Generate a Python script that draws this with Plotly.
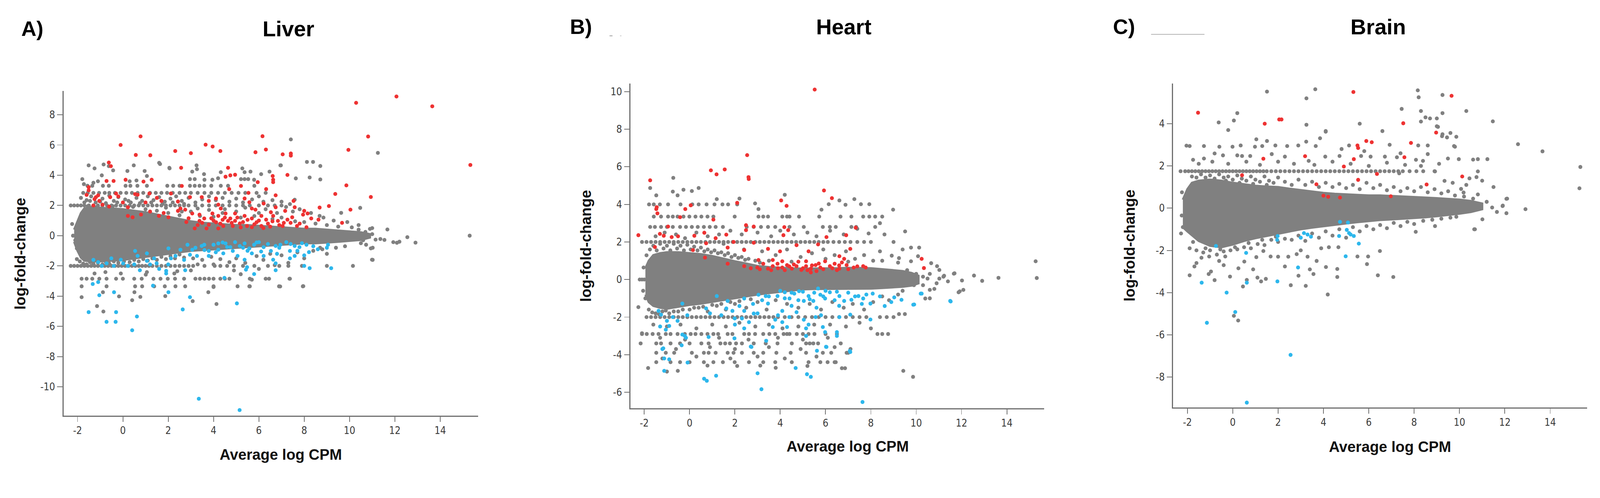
import plotly.graph_objects as go

W, H = 4284, 1276
GREY = "#808080"
RED = "#EE3232"
BLUE = "#2DB7EC"
AXIS = "#6f6f6f"

X_TICKS = [-2, 0, 2, 4, 6, 8, 10, 12, 14]
X_TICK_LABELS = ["-2", "0", "2", "4", "6", "8", "10", "12", "14"]
LIVER_Y_TICKS = [-10, -8, -6, -4, -2, 0, 2, 4, 6, 8]
LIVER_Y_LABELS = ["-10", "-8", "-6", "-4", "-2", "0", "2", "4", "6", "8"]
HEART_Y_TICKS = [-6, -4, -2, 0, 2, 4, 6, 8, 10]
HEART_Y_LABELS = ["-6", "-4", "-2", "0", "2", "4", "6", "8", "10"]
BRAIN_Y_TICKS = [-8, -6, -4, -2, 0, 2, 4]
BRAIN_Y_LABELS = ["-8", "-6", "-4", "-2", "0", "2", "4"]

PANEL_TITLES = ["Liver", "Heart", "Brain"]
PANEL_LETTERS = ["A)", "B)", "C)"]
X_TITLE = "Average log CPM"
Y_TITLE = "log-fold-change"

# ---------------- Liver ----------------
LIVER_CORE_X = [-2.15, -2.0, -1.85, -1.7, -1.4, -1.0, -0.5, 0, 0.5, 1, 1.5, 2, 2.5, 3, 3.5, 4, 4.5, 5,
                5.5, 6, 6.5, 7, 7.5, 8, 8.5, 9, 9.5, 10, 10.5, 10.9]
LIVER_CORE_HI = [0.4, 1.0, 1.5, 1.8, 1.9, 1.85, 1.8, 1.75, 1.65, 1.55, 1.4, 1.25, 1.1, 0.95, 0.85, 0.8, 0.75,
                 0.7, 0.7, 0.65, 0.6, 0.55, 0.5, 0.45, 0.45, 0.4, 0.35, 0.3, 0.22, 0.1]
LIVER_CORE_LO = [-0.4, -1.0, -1.45, -1.65, -1.7, -1.7, -1.65, -1.6, -1.5, -1.4, -1.3, -1.2, -1.1, -1.0, -0.95,
                 -0.9, -0.85, -0.8, -0.75, -0.7, -0.65, -0.6, -0.55, -0.5, -0.5, -0.45, -0.4, -0.35, -0.28, -0.12]
LIVER_GREY_ROWS = [
    (3.3, [-1.56, -1.35, -0.88, -0.62, 0.12, 0.33, 0.64, 1.06, 1.96, 2.22, 2.5, 2.96, 3.17, 3.38, 3.59, 3.9, 4.32, 4.64, 5.8]),
    (2.83, [-1.75, -1.55, -1.3, -1.05, -0.8, -0.6, -0.35, -0.1, 0.15, 0.4, 0.65, 0.9, 1.2, 1.45, 1.7, 1.95, 2.2, 2.5,
            2.75, 3.0, 3.3, 3.6, 3.9, 4.2, 4.5, 4.8, 5.1, 5.4, 5.9, 6.3]),
    (2.0, [-2.3, -2.15, -2.0, -1.85, -1.7, -1.5, -1.3, -1.1, -0.9, -0.7, -0.5, -0.3, -0.1, 0.1, 0.3, 0.5, 0.7, 0.9, 1.1,
           1.3, 1.5, 1.7, 1.9, 2.1, 2.3, 2.5, 2.7, 2.9, 3.2, 3.5, 3.8, 4.1, 4.4, 4.7, 5.0, 5.3, 5.6, 6.0, 6.4, 6.7, 7.0]),
    (-2.0, [-2.3, -2.15, -2.0, -1.85, -1.7, -1.55, -1.4, -1.25, -1.1, -0.95, -0.8, -0.65, -0.5, -0.35, -0.2, -0.05, 0.1,
            0.25, 0.4, 0.55, 0.7, 0.85, 1.0, 1.15, 1.3, 1.5, 1.7, 1.9, 2.1, 2.3, 2.5, 2.7, 2.9, 3.1, 3.6, 4.05, 4.3, 4.6,
            4.9, 5.3, 5.8, 6.4, 6.9, 7.3, 7.9, 9.0, 10.15]),
    (-2.85, [-1.82, -1.6, -1.35, -1.04, -0.72, -0.3, 0.0, 0.5, 0.83, 1.35, 1.66, 1.98, 2.3, 2.7, 3.2, 3.4, 3.6, 3.8, 4.0,
             4.3, 4.5, 4.7, 5.6, 6.3, 6.45, 7.37]),
    (-3.35, [-1.82, -0.72, 0.54, 0.85, 1.38, 1.85, 2.32, 2.75, 4.0, 5.06, 5.58, 6.89, 7.94]),
]
LIVER_GREY = [
    (-1.51, 4.65), (-1.25, 4.45), (-0.85, 4.71), (-0.43, 4.32), (-0.62, 4.6), (0.2, 4.28), (0.48, 4.65), (0.96, 4.28),
    (1.64, 4.74), (2.06, 4.45), (3.06, 4.24), (3.25, 4.65), (3.27, 4.4), (3.58, 4.07), (4.32, 4.2), (5.27, 4.45),
    (5.37, 4.2), (5.63, 4.24), (6.1, 4.07), (6.47, 4.24), (6.97, 4.65), (7.63, 3.79), (8.24, 3.85), (8.71, 4.61),
    (8.71, 3.72), (-0.93, 3.99), (-1.79, 3.74), (1.06, 3.95), (2.96, 3.74), (3.17, 3.74), (3.6, 3.7), (3.95, 3.7),
    (4.2, 3.8), (5.21, 3.74), (5.37, 3.74), (5.53, 3.74), (5.79, 3.7), (7.41, 6.37), (8.12, 4.88), (8.39, 4.88),
    (11.25, 5.48), (6.95, 4.65), (-1.72, 3.41), (-1.3, 3.5), (-1.1, 3.6), (0.3, 3.6), (0.6, 3.65), (1.6, 4.82),
    (2.05, 4.49),
    (-1.85, 2.5), (-1.6, 2.35), (-1.4, 2.6), (-1.2, 2.2), (-0.9, 2.45), (-0.6, 2.65), (-0.4, 2.3), (-0.2, 2.55),
    (0.1, 2.4), (0.35, 2.2), (0.6, 2.5), (0.85, 2.3), (1.1, 2.6), (1.35, 2.35), (1.6, 2.55), (1.85, 2.25), (2.1, 2.45),
    (2.35, 2.6), (2.6, 2.3), (2.9, 2.5), (3.2, 2.2), (3.5, 2.4), (3.8, 2.6), (4.1, 2.35), (4.4, 2.5), (4.7, 2.25),
    (5.0, 2.45), (5.3, 2.2), (5.7, 2.4), (6.0, 2.6), (6.2, 2.25), (6.6, 2.35), (7.0, 2.25), (7.37, 2.09), (7.58, 2.38),
    (7.2, 1.9), (7.5, 1.6), (7.8, 1.75), (8.68, 1.31), (8.85, 1.2), (9.63, 1.51), (10.47, 1.84), (8.3, 1.5), (9.3, 1.0),
    (9.9, 0.9), (10.4, 0.7), (10.9, 0.45), (11.0, 0.5),
    (-1.7, 2.2), (-1.45, 2.3), (-1.0, 2.25), (-0.75, 2.15), (-0.25, 2.2), (0.25, 2.3), (0.75, 2.15), (1.25, 2.2),
    (1.75, 2.1), (2.2, 2.2), (2.7, 2.1), (-1.55, 1.95), (-1.15, 1.9), (-0.45, 1.95), (0.45, 1.9), (1.0, 1.75),
    (1.5, 1.65), (2.0, 1.5), (2.5, 1.35), (2.6, 1.6), (1.9, 1.85),
    (3.0, 1.6), (3.3, 1.8), (3.8, 1.7), (4.5, 1.75), (5.0, 1.6), (5.4, 1.85), (6.0, 1.5), (6.3, 1.75), (6.8, 1.5),
    (7.0, 1.2), (6.6, 1.1), (5.8, 1.3), (4.4, 1.5), (5.2, 1.2), (4.0, 1.25), (3.4, 1.3), (7.6, 0.95), (8.0, 0.9),
    (8.5, 0.8), (9.0, 0.7),
    (10.99, -1.59), (10.94, -0.84), (10.73, -0.6), (11.36, -0.22), (11.67, 0.41), (11.93, -0.43), (12.09, -0.47),
    (12.55, -0.1), (11.15, -0.26), (12.91, -0.46), (12.2, -0.4), (11.54, -0.28), (15.3, 0.0), (11.02, -0.8),
    (10.6, -0.3), (10.4, 0.4), (10.7, 0.25), (11.0, 0.1), (10.5, -0.5), (9.8, -0.7), (9.4, -0.8), (8.8, -0.9),
    (9.5, 0.6), (10.1, 0.55),
    (-2.03, -1.55), (-2.03, -0.84), (-2.2, 0.0), (-2.24, 0.77), (-2.1, -0.3), (1.01, -2.58), (1.06, -2.41),
    (-0.09, -2.5), (-1.25, -2.5), (-0.77, -2.41), (2.27, -2.5), (4.0, -3.4), (6.94, -3.36), (5.69, -2.91),
    (-1.82, -4.07), (-0.88, -3.74), (-0.17, -4.02), (0.41, -4.27), (0.51, -3.74), (0.77, -4.05), (-1.14, -4.66),
    (-0.86, -5.02), (1.87, -4.0), (3.08, -4.33), (3.77, -3.74), (4.13, -4.52), (7.96, -3.34), (7.35, -2.85),
    (5.6, -3.35), (11.02, -1.6),
    (-1.9, -1.7), (-1.6, -1.9), (-1.3, -1.85), (-0.9, -1.9), (-0.6, -1.85), (-0.2, -1.8), (0.3, -1.75), (0.7, -1.7),
    (1.1, -1.65), (1.5, -1.6), (1.9, -1.55), (2.3, -1.5), (2.7, -1.45), (3.1, -1.5), (3.5, -1.6), (3.9, -1.4),
    (4.3, -1.55), (4.7, -1.75), (5.0, -1.5), (5.4, -1.8), (5.9, -1.35), (6.2, -1.6), (6.5, -1.2), (7.0, -1.3),
    (7.3, -1.8), (7.7, -1.1), (8.0, -1.5), (8.4, -1.0), (8.7, -0.8), (9.0, -1.2), (3.3, -1.9), (4.0, -1.9),
    (4.9, -2.3), (5.2, -2.55), (6.0, -2.2), (6.7, -1.95), (3.0, -2.3), (2.4, -2.35),
    (-1.75, -1.85), (-1.45, -1.75), (-1.1, -1.8), (-0.75, -1.75), (-0.4, -1.7), (0.05, -1.7), (0.5, -1.6),
    (0.9, -1.55), (1.3, -1.5), (1.7, -1.4), (2.1, -1.35), (2.5, -1.25),
]
LIVER_RED = [
    (12.07, 9.21), (10.29, 8.79), (13.65, 8.56), (15.33, 4.68), (10.82, 6.56), (9.95, 5.68), (9.86, 3.33),
    (10.94, 2.56), (9.37, 2.76), (10.04, 1.72), (9.09, 1.96), (8.68, 1.86), (9.67, 0.85), (-0.1, 6.0), (0.78, 6.57),
    (0.57, 5.34), (1.21, 5.32), (2.31, 5.6), (3.0, 5.46), (3.65, 6.02), (3.96, 5.9), (4.3, 5.6), (5.85, 5.52),
    (6.16, 6.58), (6.31, 5.7), (7.05, 5.38), (7.41, 5.44), (7.41, 5.3), (-0.62, 4.84), (-0.53, 4.6),
    (2.57, 4.49), (4.64, 4.49), (7.26, 4.02), (6.61, 3.95), (6.63, 3.7), (6.63, 3.54), (2.6, 3.29), (4.53, 3.9),
    (4.74, 3.99), (4.95, 4.03), (5.21, 3.29), (4.69, 3.08), (5.95, 3.54), (6.32, 3.08), (5.54, 2.83), (6.74, 2.67),
    (7.53, 2.3), (7.58, 1.88), (8.0, 1.64), (8.15, 1.47), (7.95, 1.39), (8.31, 1.14), (8.1, 0.56), (8.63, 1.06),
    (-1.51, 3.21), (-1.51, 3.0), (-0.72, 3.62), (-0.41, 3.62), (0.12, 3.7), (0.91, 3.58), (1.27, 3.7), (0.54, 2.75),
    (-1.09, 2.67), (-1.19, 2.55), (-1.25, 2.42), (-1.04, 2.3), (-0.61, 1.93), (-0.56, 2.55), (-0.3, 2.79),
    (0.22, 1.88), (0.65, 2.71), (1.17, 2.79), (1.7, 2.3), (2.12, 2.79), (2.43, 2.26), (2.54, 1.8), (0.22, 1.31),
    (0.43, 1.22), (1.59, 1.31), (2.01, 1.22), (2.43, 1.64), (2.75, 1.72), (3.06, 1.47), (3.17, 0.48), (3.38, 0.98),
    (3.59, 1.14), (3.38, 1.39), (2.96, 2.55), (3.48, 2.55), (3.79, 2.3), (4.11, 2.46), (4.21, 2.05), (4.32, 1.8),
    (3.95, 1.47), (4.21, 1.31), (4.53, 1.47), (4.74, 1.14), (4.95, 0.98), (5.16, 0.81), (5.37, 1.31), (5.69, 1.14),
    (5.9, 0.89), (6.11, 0.64), (6.32, 1.06), (6.63, 1.31), (6.84, 0.98), (7.05, 0.64), (7.26, 1.06), (7.68, 0.64),
    (3.79, 0.73), (4.11, 0.89), (4.43, 0.64), (4.64, 0.98), (4.85, 0.64), (5.48, 0.64), (6.11, 1.31), (5.85, 1.72),
    (6.21, 2.13), (5.37, 2.46), (5.58, 2.21), (5.69, 1.8), (7.16, 1.64), (7.47, 1.22), (6.74, 1.88), (6.53, 1.55),
    (4.95, 1.47), (3.69, 0.48), (4.21, 0.48), (5.69, 0.56),
    (4.0, 1.0), (4.3, 0.8), (4.5, 1.2), (4.8, 0.85), (5.05, 1.2), (5.3, 0.9), (5.5, 1.05), (5.8, 0.75), (6.0, 1.0),
    (6.4, 0.8), (6.6, 0.95), (3.9, 1.15), (4.4, 1.05), (5.2, 0.55), (6.2, 0.5), (6.9, 0.7), (7.4, 0.85), (3.3, 0.7),
    (3.5, 0.85), (2.8, 0.9), (2.9, 1.15), (6.5, 0.6), (7.1, 0.85), (7.8, 0.8), (1.8, 1.5), (1.2, 1.6), (0.8, 1.4),
    (-1.3, 2.0), (-0.9, 2.05), (-1.6, 2.7), (0.0, 2.2), (-0.2, 2.6), (1.0, 2.2), (1.5, 2.5),
]
LIVER_BLUE = [
    (3.35, -10.79), (5.15, -11.54), (-1.51, -5.06), (-0.3, -5.06), (-0.72, -5.7), (-0.32, -5.7), (0.41, -6.26),
    (0.62, -5.35), (2.64, -4.88), (5.03, -4.48), (2.01, -3.74), (2.96, -4.07), (1.33, -3.31), (-1.04, -3.94),
    (-0.39, -3.74), (-1.33, -3.2), (-1.09, -3.07), (1.91, -2.5), (1.91, -2.33), (2.75, -2.29), (4.48, -2.79),
    (5.79, -2.54), (5.43, -2.25), (6.74, -2.29), (8.0, -2.0), (8.24, -2.15), (9.19, -2.15), (0.75, -2.29),
    (0.22, -2.0), (0.01, -1.83), (-0.93, -2.0), (-0.72, -1.83), (-0.09, -1.59), (0.54, -1.01), (0.65, -1.34),
    (1.06, -1.67), (1.38, -1.5), (1.49, -1.83), (2.01, -0.84), (2.32, -1.34), (2.54, -0.93), (2.85, -0.6),
    (3.06, -0.93), (3.27, -1.34), (3.48, -0.68), (3.79, -1.01), (4.0, -0.6), (4.21, -0.93), (4.53, -0.51),
    (4.74, -0.76), (4.95, -0.43), (5.16, -0.68), (5.37, -0.51), (5.58, -0.84), (5.79, -0.6), (6.0, -0.43),
    (6.21, -0.76), (6.53, -1.01), (6.74, -0.68), (6.95, -0.6), (7.21, -0.43), (7.37, -1.01), (7.58, -0.68),
    (7.79, -0.76), (8.1, -0.6), (8.21, -1.09), (9.05, -0.6), (3.79, -1.34), (4.43, -1.17), (5.06, -1.34),
    (5.37, -1.59), (5.48, -2.08), (6.63, -1.59), (7.37, -1.5), (6.74, -1.83), (7.58, -1.34), (2.12, -1.5),
    (2.96, -1.26), (1.06, -1.17), (-0.51, -1.5), (-1.09, -1.75), (3.59, -0.6), (4.21, -0.51), (4.85, -1.01),
    (5.69, -1.17), (6.21, -1.34),
    (4.4, -0.45), (4.6, -0.75), (5.3, -0.8), (5.9, -0.45), (6.4, -0.55), (6.9, -0.8), (7.4, -0.55), (7.9, -0.5),
    (8.4, -0.7), (3.2, -0.8), (3.6, -0.95), (4.1, -1.1), (5.5, -1.0), (6.1, -1.05), (6.8, -1.2), (7.7, -1.0),
    (8.0, -1.3), (8.6, -0.9), (9.0, -0.8), (2.7, -1.6), (2.0, -1.9), (1.6, -2.2), (1.2, -1.9), (0.5, -1.9),
    (-0.4, -2.0), (-1.3, -1.6),
]

# ---------------- Heart ----------------
HEART_CORE_X = [-1.95, -1.8, -1.6, -1.3, -1.0, -0.5, 0, 0.5, 1, 1.5, 2, 2.5, 3, 3.5, 4, 4.5, 5, 5.5, 6, 6.5,
                7, 7.5, 8, 8.5, 9, 9.4, 9.8, 10.1]
HEART_CORE_HI = [0.6, 1.0, 1.3, 1.4, 1.45, 1.45, 1.4, 1.35, 1.25, 1.1, 0.97, 0.85, 0.72, 0.66, 0.62, 0.6, 0.58,
                 0.58, 0.58, 0.6, 0.62, 0.62, 0.6, 0.55, 0.5, 0.45, 0.35, 0.2]
HEART_CORE_LO = [-0.8, -1.2, -1.4, -1.5, -1.55, -1.45, -1.35, -1.28, -1.2, -1.1, -1.0, -0.9, -0.8, -0.72,
                 -0.65, -0.58, -0.52, -0.5, -0.48, -0.48, -0.48, -0.48, -0.48, -0.45, -0.42, -0.38, -0.32, -0.2]
HEART_GREY_ROWS = [
    (0.0, [-2.2, -2.1, -2.0]),
    (4.0, [-1.79, -1.58, -1.31, -0.95, -0.4, 0.12, 0.4, 0.75, 1.1, 1.45, 1.7, 2.1]),
    (3.35, [-1.58, -1.26, -0.95, -0.74, -0.53, -0.27, -0.01, 0.26, 0.52, 0.79, 1.05, 1.99, 3.04, 3.25, 3.46, 4.09,
            4.3, 4.41, 4.83, 5.72, 6.66, 7.14, 7.66, 7.93, 8.19, 8.5]),
    (2.8, [-1.74, -1.53, -1.26, -1.0, -0.74, -0.42, -0.16, 0.1, 0.36, 0.63, 0.89, 1.15, 1.47, 2.52, 2.83, 3.15, 3.46,
           3.78, 4.41, 5.04, 5.88, 6.19, 6.45, 7.14, 7.35, 8.19]),
    (2.0, [-2.1, -1.9, -1.7, -1.5, -1.3, -1.1, -0.9, -0.7, -0.5, -0.3, -0.1, 0.1, 0.3, 0.5, 0.7, 0.9, 1.1, 1.3, 1.5,
           1.7, 1.9, 2.1, 2.3, 2.5, 2.7, 2.9, 3.1, 3.3, 3.5, 3.7, 3.9, 4.1, 4.3, 4.5, 4.7, 4.9, 5.1, 5.3, 5.5, 5.7, 5.9,
           6.1, 6.35, 6.6, 6.85, 7.1, 7.4, 7.7, 8.0]),
    (-2.0, [-1.9, -1.7, -1.5, -1.3, -1.1, -0.9, -0.7, -0.5, -0.3, -0.1, 0.1, 0.3, 0.5, 0.7, 0.9, 1.1, 1.3, 1.5, 1.7,
            1.9, 2.1, 2.3, 2.5, 2.7, 2.9, 3.1, 3.3, 3.5, 3.7, 3.9, 4.2, 4.5, 4.8, 5.1, 5.4, 5.7, 6.0, 6.3, 6.6, 6.9,
            7.2, 7.5, 7.8, 8.4, 8.7, 9.0]),
    (-2.9, [-2.1, -1.89, -1.63, -1.37, -1.05, -0.84, -0.53, -0.21, 0.05, 0.26, 0.52, 0.79, 1.05, 1.26, 1.68, 1.89,
            2.41, 2.62, 2.89, 3.25, 3.52, 3.78, 4.15, 4.3, 4.41, 4.73, 5.0, 5.25, 5.51, 6.0, 6.5, 8.29, 8.5, 8.76]),
    (-3.4, [-2.16, -1.47, -1.26, -0.84, -0.42, 0.0, 0.52, 0.84, 1.36, 1.57, 1.78, 2.05, 2.31, 2.83, 3.36, 3.88, 4.51,
            5.14, 5.3, 5.46, 5.67, 6.67]),
    (-3.9, [-1.47, -1.05, -0.68, 0.1, 0.63, 0.84, 1.15, 1.68, 1.94, 2.31, 2.83, 3.25, 3.83, 4.46, 5.14, 5.88, 6.25,
            6.93]),
    (-4.4, [-1.47, -0.84, -0.42, 0.0, 0.63, 1.05, 1.47, 1.99, 2.62, 3.25, 3.78, 4.51, 5.25, 5.77, 6.09, 6.45]),
]
HEART_GREY = [
    (-2.03, 0.64), (-1.9, 1.29), (-2.05, -0.6), (-1.95, -1.0),
    (-1.74, 4.87), (-1.47, 4.48), (-0.74, 4.68), (-0.53, 4.48), (-0.27, 4.78), (0.1, 4.71), (0.4, 4.87), (1.2, 4.28),
    (2.2, 4.31), (4.2, 4.51), (7.27, 4.28), (6.61, 4.21), (6.88, 3.98), (7.56, 4.01), (7.93, 4.01), (8.98, 3.72),
    (6.14, 4.01), (5.82, 3.72), (2.89, 4.05), (3.04, 3.75), (-0.72, 5.41), (9.51, 2.56), (8.4, 3.0), (8.6, 2.4),
    (7.9, 2.45), (9.0, 2.0), (9.4, 1.6), (9.77, 1.7), (10.13, 1.7), (8.92, 1.27), (9.24, 1.14), (9.77, 0.97),
    (10.08, 1.24), (10.66, 0.87), (10.92, 0.71), (11.02, 0.51), (11.66, 0.31), (12.02, -0.05), (12.55, 0.21),
    (11.02, 0.05), (11.2, 0.15), (10.6, 0.3), (10.3, 0.15), (10.6, -0.55), (10.8, -0.5), (11.87, -0.68),
    (12.08, -0.55), (10.4, -1.01), (10.6, -1.0), (9.24, -1.84), (9.5, -1.84), (11.23, 0.2), (11.69, 0.33),
    (12.91, -0.07), (13.63, 0.09), (15.27, 0.97), (15.32, 0.08), (11.92, -0.63), (9.43, -4.86), (9.86, -5.18),
    (-1.83, -4.71), (-0.52, -4.86), (0.79, -4.58), (3.12, -4.58), (6.72, -4.72), (6.86, -4.72), (6.4, -4.4),
    (7.1, -3.7), (7.0, -3.9), (-2.26, -1.47), (-2.1, -2.86), (9.9, -0.3), (9.6, 0.5), (9.4, -0.6), (10.0, 0.3),
    (9.2, 0.9), (8.5, 1.0), (10.3, -0.3), (10.5, 0.05), (10.9, -0.2), (11.4, -0.1),
    (-1.75, 1.6), (-1.6, 1.8), (-1.45, 1.55), (-1.3, 1.9), (-1.15, 1.65), (-1.0, 1.8), (-0.85, 1.55), (-0.7, 1.9),
    (-0.55, 1.65), (-0.4, 1.8), (-0.25, 1.55), (-0.1, 1.85), (0.05, 1.6), (0.2, 1.75), (0.35, 1.55), (0.5, 1.7),
    (0.65, 1.5), (0.8, 1.6), (0.95, 1.45), (1.1, 1.55), (1.25, 1.4), (1.4, 1.45), (1.55, 1.3), (1.7, 1.4),
    (1.85, 1.2), (2.0, 1.3), (2.15, 1.15), (2.3, 1.2), (2.45, 1.05), (2.6, 1.1), (2.9, 1.0), (3.1, 0.9),
    (-1.5, 2.3), (-1.1, 2.5), (-0.6, 2.4), (-0.2, 2.2), (0.3, 2.5), (0.8, 2.3), (1.3, 2.4), (1.8, 2.6), (2.3, 2.4),
    (3.0, 2.5), (3.6, 2.3), (4.0, 2.6), (4.6, 2.4), (5.2, 2.5), (5.6, 2.3), (6.2, 2.6), (6.8, 2.4), (7.4, 2.7),
    (3.2, 1.5), (3.8, 1.3), (4.3, 1.6), (4.9, 1.2), (5.4, 1.4), (5.9, 1.6), (6.4, 1.3), (6.9, 1.5), (7.3, 1.1),
    (7.7, 1.3), (8.1, 1.0), (8.4, 1.5), (3.5, 1.0), (4.5, 0.95), (6.0, 1.1), (7.0, 0.95), (2.4, 1.6), (1.5, 1.9),
    (-1.8, -1.6), (-1.5, -1.8), (-1.2, -1.7), (-0.9, -1.8), (-0.5, -1.7), (0.0, -1.6), (0.4, -1.5), (0.8, -1.7),
    (1.2, -1.4), (1.6, -1.6), (2.0, -1.3), (2.5, -1.5), (3.0, -1.2), (3.4, -1.6), (3.8, -1.1), (4.3, -1.3),
    (4.8, -1.5), (5.3, -1.3), (5.8, -1.6), (6.3, -1.2), (6.8, -1.5), (7.2, -1.3), (7.7, -1.6), (8.1, -1.2),
    (8.5, -0.9), (8.8, -1.1), (9.2, -0.8), (-1.6, -2.4), (-1.0, -2.5), (-0.4, -2.4), (0.3, -2.6), (1.0, -2.4),
    (1.6, -2.5), (2.2, -2.3), (2.9, -2.5), (3.5, -2.4), (4.1, -2.6), (4.8, -2.5), (5.5, -2.4), (6.2, -2.4),
    (6.9, -2.5), (7.5, -2.3), (8.0, -2.6), (-1.3, -3.1), (-0.2, -3.2), (1.3, -3.1), (2.6, -3.2), (3.9, -3.1),
    (5.0, -3.2), (6.1, -3.1), (-0.6, -3.7), (0.9, -3.6), (2.0, -3.7), (3.5, -3.6), (4.9, -3.7), (6.4, -3.6),
    (-1.2, -4.2), (0.3, -4.1), (1.8, -4.2), (3.0, -4.1), (4.2, -4.2), (5.6, -4.1), (2.1, -4.6), (3.8, -4.7),
    (5.2, -4.6), (-1.0, -4.9),
    (-1.65, -1.75), (-1.35, -1.85), (-1.05, -1.65), (-0.7, -1.7), (-0.3, -1.6), (0.2, -1.5), (0.6, -1.45),
    (1.0, -1.35), (1.4, -1.3), (1.8, -1.2), (2.2, -1.15), (2.7, -1.05),
]
HEART_RED = [
    (5.52, 10.11), (2.54, 6.62), (2.6, 5.45), (2.61, 5.35), (1.55, 5.86), (1.19, 5.6), (0.94, 5.81), (-1.74, 5.28),
    (-2.26, 2.36), (-1.47, 3.75), (-1.45, 3.85), (-1.42, 3.52), (-0.19, 3.75), (0.05, 3.95), (-0.42, 3.32),
    (1.05, 3.19), (0.65, 2.49), (2.1, 4.08), (2.49, 2.89), (2.49, 2.63), (2.83, 2.82), (4.04, 4.21), (4.28, 3.92),
    (4.18, 2.79), (4.35, 2.63), (4.14, 2.36), (5.93, 4.74), (6.28, 4.33), (7.33, 2.76), (6.04, 2.26), (6.91, 2.36),
    (7.09, 1.63), (5.67, 1.87), (10.24, 1.1), (10.34, 0.61), (-1.53, 1.73), (-1.31, 2.43), (-1.14, 2.33),
    (-0.95, 2.82), (-0.79, 2.26), (-0.51, 2.3), (0.21, 2.33), (0.73, 1.93), (1.15, 2.2), (1.62, 2.39), (0.15, 1.57),
    (1.68, 1.7), (1.94, 2.0), (2.41, 1.57), (2.83, 1.96), (3.46, 1.63), (3.99, 1.5), (4.72, 1.83), (5.25, 1.5),
    (1.68, 0.84), (0.68, 1.17), (2.41, 0.71), (2.99, 0.64), (3.25, 0.84), (3.46, 0.58), (3.67, 0.71), (3.88, 0.84),
    (4.09, 0.64), (4.3, 0.77), (4.51, 0.58), (4.72, 0.71), (4.93, 0.51), (5.14, 0.71), (5.35, 0.58), (5.56, 0.77),
    (5.77, 0.64), (5.98, 0.97), (6.19, 0.71), (6.4, 0.84), (6.61, 0.58), (6.72, 0.91), (6.93, 0.77), (7.24, 0.64),
    (7.66, 0.71), (7.77, 0.64), (5.35, 0.38), (4.09, 0.97), (3.04, 1.04), (3.67, 1.04), (5.14, 0.97), (6.61, 1.24),
    (6.82, 1.1),
    (3.1, 0.55), (3.6, 0.5), (4.2, 0.5), (4.6, 0.8), (5.0, 0.6), (5.4, 0.75), (5.9, 0.55), (6.3, 0.6), (6.6, 0.75),
    (7.0, 0.55), (7.4, 0.7), (3.9, 0.6), (4.4, 0.7), (5.2, 0.5), (5.7, 0.85), (6.5, 0.5), (2.7, 0.6), (4.8, 0.95),
    (5.6, 0.45),
]
HEART_BLUE = [
    (7.63, -6.52), (3.17, -5.84), (5.35, -5.18), (5.18, -5.04), (4.68, -4.71), (3.0, -4.99), (1.17, -5.12),
    (0.64, -5.28), (0.76, -5.39), (-1.12, -4.86), (-1.12, -4.2), (-0.9, -4.25), (-1.2, -3.7), (-0.09, -4.42),
    (-0.35, -3.5), (2.7, -3.57), (1.98, -3.13), (3.38, -3.26), (6.02, -3.58), (7.07, -3.8), (11.52, -1.17),
    (9.91, -1.33), (10.2, -0.75), (7.98, -2.13),
    (1.2, -0.88), (-0.32, -1.28), (-1.37, -1.67), (-1.26, -1.87), (-1.05, -2.67), (-0.9, -2.47), (-0.74, -2.0),
    (-0.53, -2.2), (-0.21, -3.0), (-0.16, -3.1), (-1.16, -3.66), (0.84, -3.06), (1.62, -1.54), (1.89, -1.67),
    (1.99, -2.07), (2.41, -1.67), (2.31, -2.07), (2.62, -2.27), (2.41, -2.6), (2.83, -1.81), (3.04, -0.81),
    (3.36, -0.88), (3.46, -1.28), (3.78, -2.14), (4.09, -1.67), (3.67, -2.53), (3.88, -0.88), (4.2, -0.68),
    (4.41, -1.01), (4.62, -0.75), (4.83, -0.62), (5.04, -1.14), (5.25, -0.88), (5.46, -1.14), (5.67, -0.48),
    (5.77, -0.81), (5.98, -1.01), (6.19, -0.68), (6.61, -0.88), (6.82, -1.14), (7.14, -1.08), (7.45, -0.88),
    (7.66, -1.01), (8.08, -0.75), (7.98, -1.28), (8.61, -1.41), (9.03, -0.95), (9.35, -1.08), (9.87, -1.34),
    (10.24, -0.75), (11.5, -1.14), (4.09, -2.27), (4.3, -2.53), (4.72, -1.74), (5.04, -2.14), (5.25, -2.4),
    (5.14, -2.6), (5.56, -2.0), (5.88, -2.53), (6.5, -2.8), (5.14, -3.0), (5.98, -2.8), (6.5, -3.0), (6.61, -2.0),
    (7.09, -1.87), (7.09, -3.86), (5.62, -3.79), (6.04, -3.59), (2.73, -3.59), (2.2, -1.41), (0.73, -1.54),
    (2.41, -1.01), (1.68, -1.14), (-0.32, -2.93),
    (4.0, -0.6), (4.5, -0.7), (5.0, -0.65), (5.5, -0.7), (6.0, -0.6), (6.5, -0.65), (7.0, -0.7), (3.5, -0.9),
    (4.2, -1.0), (4.8, -1.1), (5.3, -1.05), (5.9, -0.9), (6.4, -1.1), (7.3, -0.9), (7.8, -0.8), (8.4, -0.9),
    (8.9, -1.2), (3.2, -1.1), (2.8, -1.3), (4.5, -1.4), (5.6, -1.5), (6.6, -1.4), (7.6, -1.3), (3.0, -1.8),
    (3.9, -1.9), (4.4, -2.0), (5.8, -1.9), (2.0, -2.4), (1.4, -1.9), (0.9, -1.8), (-0.1, -1.9), (-1.0, -2.2),
    (-1.3, -2.5),
]

# ---------------- Brain ----------------
BRAIN_CORE_X = [-2.2, -2.0, -1.8, -1.5, -1.0, -0.5, 0, 0.5, 1, 1.5, 2, 2.5, 3, 3.5, 4, 4.5, 5, 5.5, 6, 6.5, 7, 7.5,
                8, 8.5, 9, 9.5, 10, 10.5, 11]
BRAIN_CORE_HI = [0.4, 0.9, 1.2, 1.3, 1.35, 1.3, 1.2, 1.12, 1.06, 1.02, 1.0, 0.92, 0.85, 0.77, 0.72, 0.68, 0.65, 0.62,
                 0.6, 0.6, 0.58, 0.56, 0.53, 0.5, 0.47, 0.44, 0.4, 0.34, 0.22]
BRAIN_CORE_LO = [-0.9, -1.1, -1.3, -1.55, -1.78, -1.85, -1.72, -1.55, -1.42, -1.3, -1.2, -1.1, -1.0, -0.92, -0.85,
                 -0.78, -0.72, -0.66, -0.6, -0.56, -0.53, -0.5, -0.47, -0.43, -0.38, -0.33, -0.26, -0.18, -0.05]
BRAIN_GREY_ROWS = [
    (1.75, [-2.3, -2.1, -1.95, -1.8, -1.65, -1.5, -1.35, -1.2, -1.05, -0.9, -0.75, -0.6, -0.45, -0.3, -0.15, 0.0, 0.15,
            0.3, 0.45, 0.6, 0.75, 0.9, 1.05, 1.2, 1.35, 1.5, 1.7, 1.9, 2.1, 2.3, 2.5, 2.7, 2.9, 3.1, 3.3, 3.5, 3.7, 3.9,
            4.1, 4.3, 4.5, 4.7, 4.9, 5.1, 5.3, 5.5, 5.7, 5.9, 6.1, 6.3, 6.5, 6.7, 6.9, 7.1, 7.3, 7.5, 7.8, 8.1, 8.4,
            8.9]),
]
BRAIN_GREY = [
    (-2.24, 0.75), (-2.25, -0.35), (-2.28, -1.2), (-2.2, -0.9),
    (-1.8, 1.5), (-1.6, 1.45), (-1.4, 1.6), (-1.2, 1.45), (-1.0, 1.55), (-0.8, 1.4), (-0.6, 1.6), (-0.4, 1.45),
    (-0.2, 1.5), (0.0, 1.35), (0.2, 1.55), (0.4, 1.4), (0.6, 1.3), (0.8, 1.5), (1.0, 1.35), (1.2, 1.25), (1.4, 1.5),
    (1.6, 1.3), (1.8, 1.2), (2.0, 1.45), (2.3, 1.25), (2.6, 1.1), (2.9, 1.35), (3.2, 1.1), (3.5, 1.25), (3.8, 1.0),
    (4.1, 1.2), (4.4, 1.0), (4.7, 1.15), (5.0, 0.95), (5.3, 1.1), (5.6, 0.9), (5.9, 1.2), (6.2, 0.95), (6.5, 1.1),
    (6.8, 0.85), (7.1, 1.0), (7.4, 0.8), (7.7, 0.95), (8.0, 0.8), (8.3, 1.0), (8.6, 0.75), (8.9, 0.9), (9.2, 0.7),
    (9.5, 0.8), (9.8, 0.6), (10.2, 0.55), (10.6, 0.45), (11.2, 0.3), (11.44, 0.03), (11.91, 0.12), (12.07, 0.44),
    (10.81, 0.65), (10.18, 0.74), (10.07, 0.91), (10.44, 1.41), (10.75, 1.47), (10.81, 1.74), (9.34, 1.29),
    (8.92, 1.74), (7.34, 1.65), (11.01, -0.53), (11.65, -0.18), (12.07, -0.24), (12.91, -0.05), (12.1, 0.45),
    (11.9, 0.1), (10.68, -1.0), (9.86, -0.41), (8.92, -0.85), (8.07, -1.12), (10.65, -1.0),
    (-1.5, 1.25), (-0.9, 1.3), (-0.3, 1.3), (0.3, 1.2), (0.9, 1.15), (1.5, 1.1),
    (-1.9, -1.9), (-1.6, -2.0), (-1.3, -2.1), (-1.0, -2.0), (-0.7, -2.2), (-0.4, -2.05), (-0.1, -2.0), (0.2, -1.95),
    (0.5, -1.85), (0.8, -1.9), (1.1, -1.7), (1.4, -1.75), (1.7, -1.5), (2.0, -1.6), (2.3, -1.45), (2.6, -1.5),
    (2.9, -1.3), (3.2, -1.55), (3.5, -1.2), (3.8, -1.4), (4.1, -1.1), (4.4, -1.3), (4.7, -1.0), (5.0, -1.4),
    (5.3, -0.9), (5.6, -1.1), (5.9, -0.85), (6.2, -1.0), (6.5, -0.8), (6.8, -0.95), (7.1, -0.7), (7.4, -0.85),
    (7.7, -0.65), (8.0, -0.75), (8.4, -0.6), (8.8, -0.55), (9.2, -0.5), (9.6, -0.45), (-1.38, -2.35),
    (-1.04, -2.29), (-1.69, -2.76), (-1.9, -3.18), (-1.06, -3.12), (-0.96, -3.0), (-0.8, -3.41), (-0.12, -3.24),
    (0.45, -3.71), (0.62, -3.4), (1.09, -3.29), (1.25, -3.47), (1.46, -3.35), (2.56, -3.65), (3.22, -3.68),
    (3.56, -3.12), (4.19, -4.09), (4.61, -3.26), (4.61, -2.88), (4.11, -2.79), (6.4, -3.18), (7.08, -3.26),
    (5.92, -2.65), (5.5, -2.29), (5.97, -2.29), (6.49, -2.03), (2.3, -2.76), (1.67, -2.29), (2.0, -2.3),
    (2.45, -2.3), (2.82, -2.18), (1.04, -2.32), (0.51, -2.53), (0.25, -2.85), (-0.33, -2.29), (1.35, -2.03),
    (4.24, -1.85), (4.66, -1.85), (0.24, -5.32), (0.05, -5.1), (-0.4, -2.7), (-0.6, -2.5), (3.0, -2.0), (3.3, -2.3),
    (3.7, -2.5), (3.9, -1.9), (2.9, -3.2), (3.4, -2.9), (-1.6, -2.6), (0.9, -2.9),
    (-1.75, -1.6), (-1.2, -1.9), (-0.55, -1.95), (0.1, -1.85), (0.7, -1.65), (1.3, -1.5), (1.9, -1.35),
    (1.51, 5.52), (3.64, 5.63), (3.25, 5.2), (8.16, 5.58), (8.2, 5.25), (9.25, 5.36), (9.25, 4.5), (10.3, 4.6),
    (7.45, 4.7), (8.3, 4.6), (8.5, 4.3), (8.7, 4.25), (8.3, 4.1), (9.0, 4.25), (9.05, 3.85), (9.25, 3.5),
    (9.45, 3.35), (11.47, 4.11), (12.58, 3.03), (13.66, 2.69), (15.33, 1.95), (15.29, 0.94), (5.6, 4.0), (4.1, 3.65),
    (3.25, 3.95), (-0.62, 4.06), (0.05, 4.15), (0.2, 4.5), (-0.2, 3.7), (-2.04, 2.96), (-1.9, 2.94), (1.04, 3.26),
    (1.51, 3.18), (3.24, 3.15), (3.85, 3.31), (4.1, 3.62), (6.6, 3.65), (9.0, 3.88), (9.23, 3.41), (9.6, 3.56),
    (9.86, 3.38), (9.8, 2.91), (11.23, 2.32), (10.81, 2.32), (9.97, 2.32), (9.49, 2.35), (8.6, 2.56), (8.39, 2.24),
    (8.08, 2.29), (7.24, 2.41), (6.71, 2.44), (6.08, 2.44), (5.66, 2.47), (4.71, 2.47), (4.08, 2.44), (3.35, 2.24),
    (2.3, 2.44), (1.72, 2.56), (0.77, 2.47), (0.41, 2.47), (0.2, 2.5), (-0.43, 2.5), (-0.8, 2.59), (-1.27, 2.35),
    (-1.75, 2.29), (-1.27, 2.94), (-0.59, 2.91), (-0.01, 2.91), (0.35, 2.97), (0.98, 2.91), (1.3, 2.94),
    (1.88, 2.97), (2.4, 2.94), (2.89, 2.97), (3.66, 2.94), (5.13, 2.97), (6.92, 3.0), (8.18, 2.97), (8.6, 2.97),
    (9.76, 2.94), (-1.5, 2.1), (-0.9, 2.2), (-0.2, 2.1), (0.6, 2.2), (1.2, 2.05), (2.0, 2.2), (2.7, 2.1),
    (3.6, 2.05), (4.4, 2.2), (5.2, 2.1), (6.0, 2.0), (6.8, 2.15), (7.6, 2.05), (8.3, 2.0), (9.1, 2.1), (4.8, 2.8),
    (5.8, 2.7), (7.4, 2.6), (10.6, 2.3), (11.0, 1.3), (11.5, 1.0), (10.3, 1.1), (9.7, 1.2),
]
BRAIN_RED = [
    (-1.53, 4.52), (1.41, 4.0), (2.05, 4.2), (2.15, 4.2), (5.32, 5.5), (9.65, 5.32), (7.52, 4.02), (8.97, 3.58),
    (5.89, 3.18), (6.13, 3.12), (5.5, 2.97), (5.53, 2.85), (7.86, 3.09), (3.19, 2.46), (1.35, 2.34), (5.34, 2.32),
    (7.57, 2.41), (4.9, 1.97), (0.41, 1.56), (6.36, 1.62), (5.53, 1.34), (3.69, 1.13), (8.55, 1.12), (10.12, 1.5),
    (4.0, 0.59), (4.21, 0.54), (4.73, 0.5), (6.97, 0.56),
]
BRAIN_BLUE = [
    (0.62, -9.21), (2.55, -6.95), (-1.14, -5.43), (0.11, -4.92), (-0.27, -4.0), (-1.37, -3.53), (0.62, -3.53),
    (1.97, -3.47), (2.88, -2.81), (4.98, -2.28), (0.59, -2.12), (-0.74, -1.79), (1.96, -1.5), (1.98, -1.32),
    (3.14, -1.18), (3.45, -1.35), (3.0, -1.4), (4.73, -0.65), (5.08, -0.68), (5.03, -1.03), (5.13, -1.18),
    (5.34, -1.32), (4.69, -1.32), (5.56, -1.68), (5.2, -1.25), (3.3, -1.25),
]

PANELS = [
    dict(name="Liver", core=(LIVER_CORE_X, LIVER_CORE_HI, LIVER_CORE_LO), rows=LIVER_GREY_ROWS, grey=LIVER_GREY,
         red=LIVER_RED, blue=LIVER_BLUE, yt=(LIVER_Y_TICKS, LIVER_Y_LABELS),
         px=(170, 1280, 244, 1114), xr=(-2.62, 15.67), yr=(-11.91, 9.57),
         title_xy=(772, 77), letter_xy=(55, 77), xt_xy=(751, 1218), yt_xy=(54, 680)),
    dict(name="Heart", core=(HEART_CORE_X, HEART_CORE_HI, HEART_CORE_LO), rows=HEART_GREY_ROWS, grey=HEART_GREY,
         red=HEART_RED, blue=HEART_BLUE, yt=(HEART_Y_TICKS, HEART_Y_LABELS),
         px=(1688, 2796, 224, 1094), xr=(-2.61, 15.65), yr=(-6.85, 10.43),
         title_xy=(2259, 72), letter_xy=(1524, 72), xt_xy=(2269, 1196), yt_xy=(1568, 659)),
    dict(name="Brain", core=(BRAIN_CORE_X, BRAIN_CORE_HI, BRAIN_CORE_LO), rows=BRAIN_GREY_ROWS, grey=BRAIN_GREY,
         red=BRAIN_RED, blue=BRAIN_BLUE, yt=(BRAIN_Y_TICKS, BRAIN_Y_LABELS),
         px=(3141, 4249, 224, 1092), xr=(-2.63, 15.62), yr=(-9.44, 5.9),
         title_xy=(3690, 72), letter_xy=(2978, 72), xt_xy=(3721, 1197), yt_xy=(3024, 658)),
]

TICK_FONT = dict(family="Liberation Sans Narrow, DejaVu Sans Condensed, Arial Narrow, sans-serif", size=27,
                 color="#3a3a3a")
BOLD_FONT = "Liberation Sans, Arial, Helvetica, sans-serif"


def px2paper(x, y):
    return x / W, 1 - y / H


fig = go.Figure()
annotations = []
for i, p in enumerate(PANELS, start=1):
    xa = "x" if i == 1 else f"x{i}"
    ya = "y" if i == 1 else f"y{i}"
    cx, chi, clo = p["core"]
    fig.add_trace(go.Scatter(x=cx + cx[::-1], y=chi + clo[::-1], mode="lines", fill="toself",
                             fillcolor=GREY, line=dict(color=GREY, width=6), xaxis=xa, yaxis=ya,
                             hoverinfo="skip", showlegend=False))
    gx = [q[0] for q in p["grey"]]
    gy = [q[1] for q in p["grey"]]
    for ry, rxs in p["rows"]:
        gx += rxs
        gy += [ry] * len(rxs)
    for xs, ys, col in [(gx, gy, GREY),
                        ([q[0] for q in p["red"]], [q[1] for q in p["red"]], RED),
                        ([q[0] for q in p["blue"]], [q[1] for q in p["blue"]], BLUE)]:
        fig.add_trace(go.Scatter(x=xs, y=ys, mode="markers", xaxis=xa, yaxis=ya, showlegend=False,
                                 marker=dict(color=col, size=10.5, line=dict(width=0))))
    x0, x1, y0, y1 = p["px"]
    common = dict(showline=True, linewidth=3, linecolor=AXIS, ticks="outside", ticklen=14, tickwidth=2,
                  tickcolor=AXIS, showgrid=False, zeroline=False, tickfont=TICK_FONT, fixedrange=True)
    fig.layout[("xaxis" if i == 1 else f"xaxis{i}")] = dict(
        domain=[x0 / W, x1 / W], anchor=ya, range=list(p["xr"]), tickmode="array",
        tickvals=X_TICKS, ticktext=X_TICK_LABELS, **common)
    fig.layout[("yaxis" if i == 1 else f"yaxis{i}")] = dict(
        domain=[1 - y1 / H, 1 - y0 / H], anchor=xa, range=list(p["yr"]), tickmode="array",
        tickvals=p["yt"][0], ticktext=p["yt"][1], **common)

    tx, ty = px2paper(*p["title_xy"])
    annotations.append(dict(text=f"<b>{PANEL_TITLES[i-1]}</b>", x=tx, y=ty, xref="paper", yref="paper",
                            showarrow=False, xanchor="center", yanchor="middle",
                            font=dict(family=BOLD_FONT, size=58, color="#000")))
    lx, ly = px2paper(*p["letter_xy"])
    annotations.append(dict(text=f"<b>{PANEL_LETTERS[i-1]}</b>", x=lx, y=ly, xref="paper", yref="paper",
                            showarrow=False, xanchor="left", yanchor="middle",
                            font=dict(family=BOLD_FONT, size=56, color="#000")))
    ax, ay = px2paper(*p["xt_xy"])
    annotations.append(dict(text=f"<b>{X_TITLE}</b>", x=ax, y=ay, xref="paper", yref="paper",
                            showarrow=False, xanchor="center", yanchor="middle",
                            font=dict(family=BOLD_FONT, size=40, color="#111")))
    bx, by = px2paper(*p["yt_xy"])
    annotations.append(dict(text=f"<b>{Y_TITLE}</b>", x=bx, y=by, xref="paper", yref="paper",
                            showarrow=False, xanchor="center", yanchor="middle", textangle=-90,
                            font=dict(family=BOLD_FONT, size=40, color="#111")))

# faint leftover marks next to panel letters B) and C)
shapes = [
    dict(type="line", xref="paper", yref="paper", x0=1632 / W, x1=1640 / W, y0=1 - 96 / H, y1=1 - 96 / H,
         line=dict(color="#9a9a9a", width=2)),
    dict(type="line", xref="paper", yref="paper", x0=1660 / W, x1=1664 / W, y0=1 - 96 / H, y1=1 - 96 / H,
         line=dict(color="#c8c8c8", width=2)),
    dict(type="line", xref="paper", yref="paper", x0=3082 / W, x1=3225 / W, y0=1 - 92 / H, y1=1 - 92 / H,
         line=dict(color="#b5b5b5", width=2)),
]

fig.update_layout(width=W, height=H, margin=dict(l=0, r=0, t=0, b=0), paper_bgcolor="white",
                  plot_bgcolor="white", annotations=annotations, shapes=shapes, showlegend=False)

# fit the fixed-size figure exactly into the browser viewport (removes body margin / scaling offsets)
FIT_JS = """
document.documentElement.style.margin='0';
document.body.style.margin='0';
document.body.style.overflow='hidden';
var gd = document.getElementById('{plot_id}');
var s = Math.min(window.innerWidth / %d, window.innerHeight / %d);
gd.style.transformOrigin = '0 0';
gd.style.transform = 'scale(' + s + ')';
""" % (W, H)

fig.write_html("out.html", post_script=FIT_JS, config={"displayModeBar": False, "staticPlot": True})
